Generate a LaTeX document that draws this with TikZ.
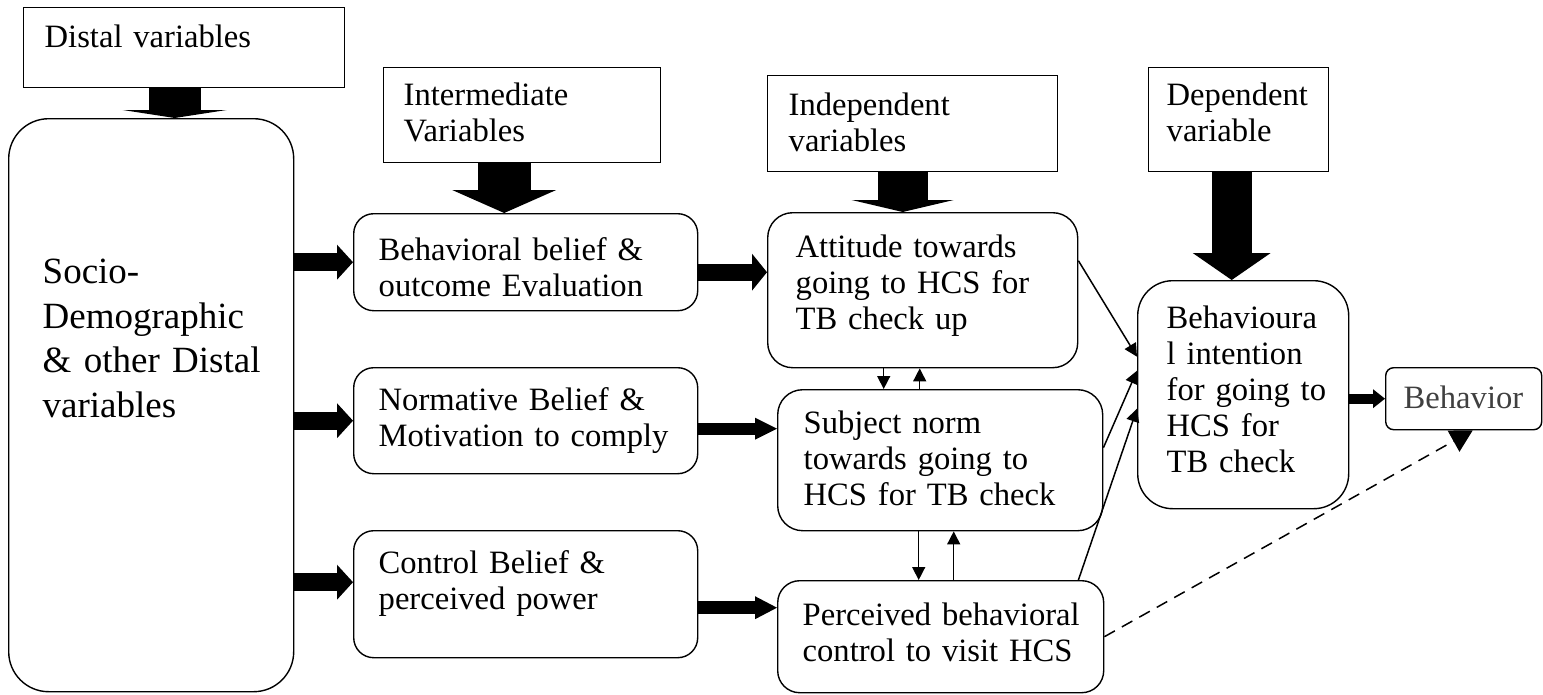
\documentclass[tikz,border=0pt]{standalone}
\usepackage{fontspec}
\setmainfont{Liberation Serif}
\usetikzlibrary{arrows.meta}
\hyphenpenalty=10000

\begin{document}
\begin{tikzpicture}[x=1pt,y=-1pt,
	box/.style={draw, line width=1.4pt, anchor=north west, align=left, inner ysep=0pt, font=\fontsize{32.6}{36}\selectfont},
	blockarrow/.style n args={3}{line width=#1, -{Triangle[width=#2,length=#3,line width=0pt]}},
	link/.style={line width=1.5pt, -{Triangle[width=13pt,length=13pt]}}]
	\useasboundingbox (0,0) rectangle (1543,694);
	
	\node[box, inner xsep=21pt, text width=279pt, text height=40pt, text depth=40pt] (distal) at (23,7) {Distal variables};
	\node[box, inner xsep=20pt, text width=237pt, text height=38pt, text depth=57pt] (inter) at (383,67) {Intermediate\\Variables};
	\node[box, inner xsep=21pt, text width=248pt, text height=40pt, text depth=56pt] (indep) at (767,75) {Independent\\variables};
	\node[box, inner xsep=18pt, text width=144pt, text height=38pt, text depth=66pt] (dep) at (1148,67) {Dependent\\variable};
	
	\node[box, rounded corners=40pt, inner xsep=34pt, text width=217pt, text height=165pt, text depth=408pt, font=\fontsize{37}{44.5}\selectfont] (socio) at (8,118) {Socio-\\Demographic\\\&~other~Distal\\variables};
	
	\node[box, rounded corners=20pt, inner xsep=25pt, text width=294pt, text height=47pt, text depth=50pt] (bb) at (353,213) {Behavioral belief \&\\outcome Evaluation};
	\node[box, rounded corners=20pt, inner xsep=25pt, text width=294pt, text height=43pt, text depth=63pt] (norm) at (353,367) {Normative Belief \&\\Motivation~to~comply};
	\node[box, rounded corners=20pt, inner xsep=25pt, text width=294pt, text height=43pt, text depth=84pt] (ctl) at (353,530) {Control Belief \&\\perceived power};
	
	\node[box, rounded corners=25pt, inner xsep=28pt, text width=254pt, text height=45pt, text depth=110pt] (att) at (767,212) {Attitude towards\\going to HCS for\\TB check up};
	\node[box, rounded corners=25pt, inner xsep=26pt, text width=273pt, text height=44pt, text depth=97pt] (subj) at (777,389) {Subject norm\\towards going to\\HCS for TB check};
	\node[box, rounded corners=22pt, inner xsep=25pt, text width=276pt, text height=45pt, text depth=67pt] (perc) at (777,580) {Perceived~behavioral\\control to visit HCS};
	
	\node[box, rounded corners=35pt, inner xsep=29pt, text width=153pt, text height=48pt, text depth=180pt] (intent) at (1137,280) {Behavioura\\l intention\\for~going~to\\HCS for\\TB check};
	\node[box, rounded corners=8pt, inner xsep=18pt, text width=120pt, text height=41pt, text depth=21pt, text=black!75] (beh) at (1385,367) {Behavior};
	
	\draw[blockarrow={52pt}{104pt}{8pt}] ([xshift=-9.5pt]distal.south) -- ([xshift=-9.5pt]distal.south |- socio.north);
	\draw[blockarrow={53pt}{104pt}{23pt}] ([xshift=-18pt]inter.south) -- ([xshift=-18pt]inter.south |- bb.north);
	\draw[blockarrow={50pt}{102pt}{12pt}] ([xshift=-10pt]indep.south) -- ([xshift=-10pt]indep.south |- att.north);
	\draw[blockarrow={40pt}{78pt}{27pt}] ([xshift=-7pt]dep.south) -- ([xshift=-7pt]dep.south |- intent.north);
	
	\coordinate (s3) at ([yshift=12pt]ctl.west);
	\draw[blockarrow={18pt}{35pt}{16pt}] (socio.east |- bb.west) -- (bb.west);
	\draw[blockarrow={18pt}{35pt}{16pt}] (socio.east |- norm.west) -- (norm.west);
	\draw[blockarrow={18pt}{35pt}{16pt}] (socio.east |- s3) -- (s3);
	
	\coordinate (b1) at ([yshift=-10pt]bb.east);
	\coordinate (b2) at ([yshift=-8pt]norm.east);
	\coordinate (b3) at ([yshift=-13.5pt]ctl.east);
	\draw[blockarrow={17pt}{37pt}{15pt}] (b1) -- (att.west |- b1);
	\draw[blockarrow={12pt}{22pt}{22pt}] (b2) -- (subj.west |- b2);
	\draw[blockarrow={13pt}{23pt}{22pt}] (b3) -- (perc.west |- b3);
	\draw[blockarrow={10pt}{19pt}{12pt}] (intent.east |- beh.west) -- (beh.west);
	
	\draw[link] ([xshift=-39pt]att.south) -- ([xshift=-39pt]att.south |- subj.north);
	\draw[link] ([xshift=-3pt]att.south |- subj.north) -- ([xshift=-3pt]att.south);
	\draw[link] ([xshift=-21.5pt]subj.south) -- ([xshift=-21.5pt]subj.south |- perc.north);
	\draw[link] ([xshift=13.5pt]subj.south |- perc.north) -- ([xshift=13.5pt]subj.south);
	
	\draw[link] ([yshift=29.5pt]att.east) -- ([yshift=38pt]intent.west);
	\draw[link] ([yshift=12.5pt]subj.east) -- ([yshift=24pt]intent.west);
	\draw[link] ([xshift=-26pt]perc.north east) -- ([yshift=-14pt]intent.west);
	\draw[line width=1.5pt, dash pattern=on 12pt off 8pt, -{Triangle[width=24pt,length=22pt]}] (perc.east) -- ([xshift=9pt]beh.south);
\end{tikzpicture}
\end{document}
